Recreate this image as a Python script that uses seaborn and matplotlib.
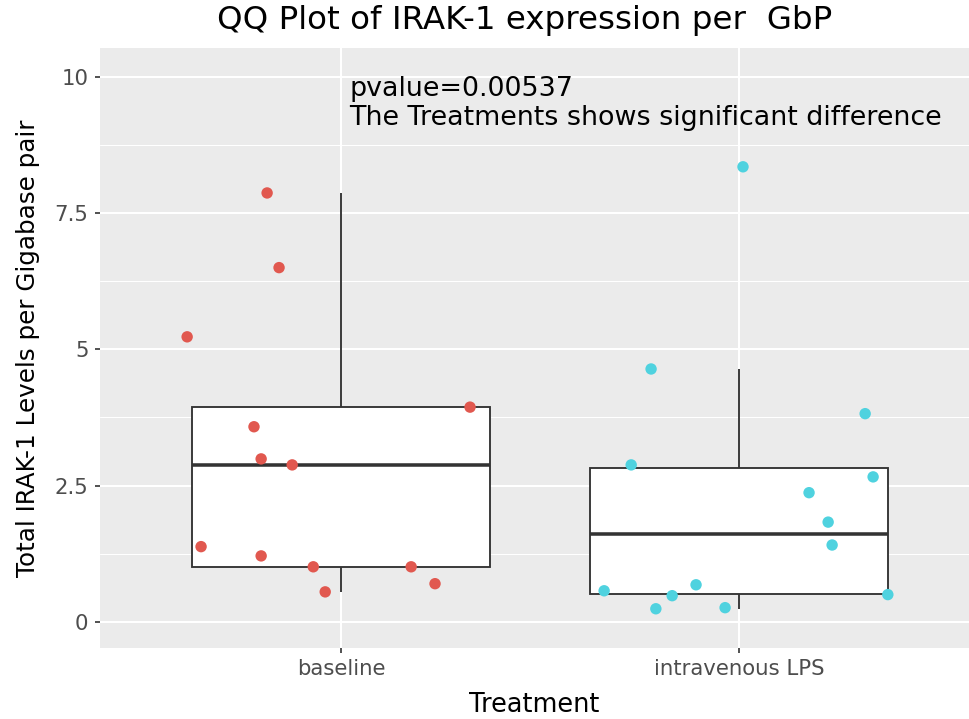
import matplotlib
matplotlib.use("Agg")
import matplotlib.pyplot as plt
import numpy as np
import pandas as pd
import seaborn as sns
from matplotlib.ticker import MultipleLocator

# IRAK-1 levels per gigabase pair, by treatment
treatments = ["baseline", "intravenous LPS"]
baseline_levels = [5.23, 7.87, 6.50, 3.58, 2.99, 2.88, 3.94, 1.38, 1.21, 1.01, 0.55, 1.01, 0.70]
baseline_jitter = [-0.387, -0.186, -0.156, -0.219, -0.201, -0.123, 0.324, -0.352, -0.201, -0.070, -0.040, 0.176, 0.236]
lps_levels = [8.35, 4.64, 2.88, 3.82, 2.66, 2.37, 1.83, 1.41, 0.57, 0.24, 0.48, 0.68, 0.26, 0.50]
lps_jitter = [0.010, -0.221, -0.271, 0.317, 0.337, 0.176, 0.224, 0.234, -0.339, -0.209, -0.168, -0.108, -0.035, 0.374]
y_ticks = [0, 2.5, 5, 7.5, 10]
y_tick_labels = ["0", "2.5", "5", "7.5", "10"]
pvalue = 0.00537

df = pd.DataFrame({
    "Treatment": [treatments[0]] * len(baseline_levels) + [treatments[1]] * len(lps_levels),
    "Level": baseline_levels + lps_levels,
    "Jitter": baseline_jitter + lps_jitter,
})
df["xpos"] = df["Treatment"].map({t: i for i, t in enumerate(treatments)}) + df["Jitter"]

sns.set_theme(style="darkgrid")
plt.rcParams["font.family"] = ["DejaVu Sans"]

fig = plt.figure(figsize=(969 / 150, 719 / 150), dpi=150)
ax = fig.add_axes([100 / 969, 1 - 648 / 719, 1 - 100 / 969, (648 - 48) / 719])
ax.set_facecolor("#EBEBEB")
ax.set_axisbelow(True)

sns.boxplot(
    data=df, x="Treatment", y="Level", order=treatments, ax=ax,
    color="white", linecolor="#333333", linewidth=0.9, width=0.75,
    showfliers=False, showcaps=False, whis=1.5,
    medianprops={"linewidth": 1.7, "color": "#333333"},
)

palette = {"baseline": "#E1584F", "intravenous LPS": "#4FD2DF"}
sns.scatterplot(
    data=df, x="xpos", y="Level", hue="Treatment", palette=palette,
    s=30, linewidth=0, ax=ax, legend=False, zorder=4,
)

ax.text(0.02, 10.02, f"pvalue={pvalue}\nThe Treatments shows significant difference",
        ha="left", va="top", fontsize=12.9, color="black", linespacing=1.15)

ax.set_xlim(-0.606, 1.578)
ax.set_ylim(-0.48, 10.53)
ax.set_xticks(range(len(treatments)))
ax.set_xticklabels(treatments)
ax.set_yticks(y_ticks)
ax.set_yticklabels(y_tick_labels)
ax.yaxis.set_minor_locator(MultipleLocator(1.25))

ax.grid(which="major", color="white", linewidth=1.0)
ax.grid(which="minor", axis="y", color="white", linewidth=0.5)
ax.grid(which="minor", axis="x", visible=False)
ax.tick_params(axis="both", which="major", length=2.5, width=0.8, color="#333333",
               labelsize=10.2, labelcolor="#4D4D4D", pad=3, left=True, bottom=True)
ax.tick_params(axis="both", which="minor", length=0)
for sp in ax.spines.values():
    sp.set_visible(False)

ax.set_title("QQ Plot of IRAK-1 expression per  GbP", fontsize=15.6, pad=9,
             color="black", x=0.4885)
ax.set_xlabel("Treatment", fontsize=12.3, labelpad=6, color="black")
ax.set_ylabel("Total IRAK-1 Levels per Gigabase pair", fontsize=11.8, labelpad=7, color="black")

fig.savefig("out.png", dpi=150)
